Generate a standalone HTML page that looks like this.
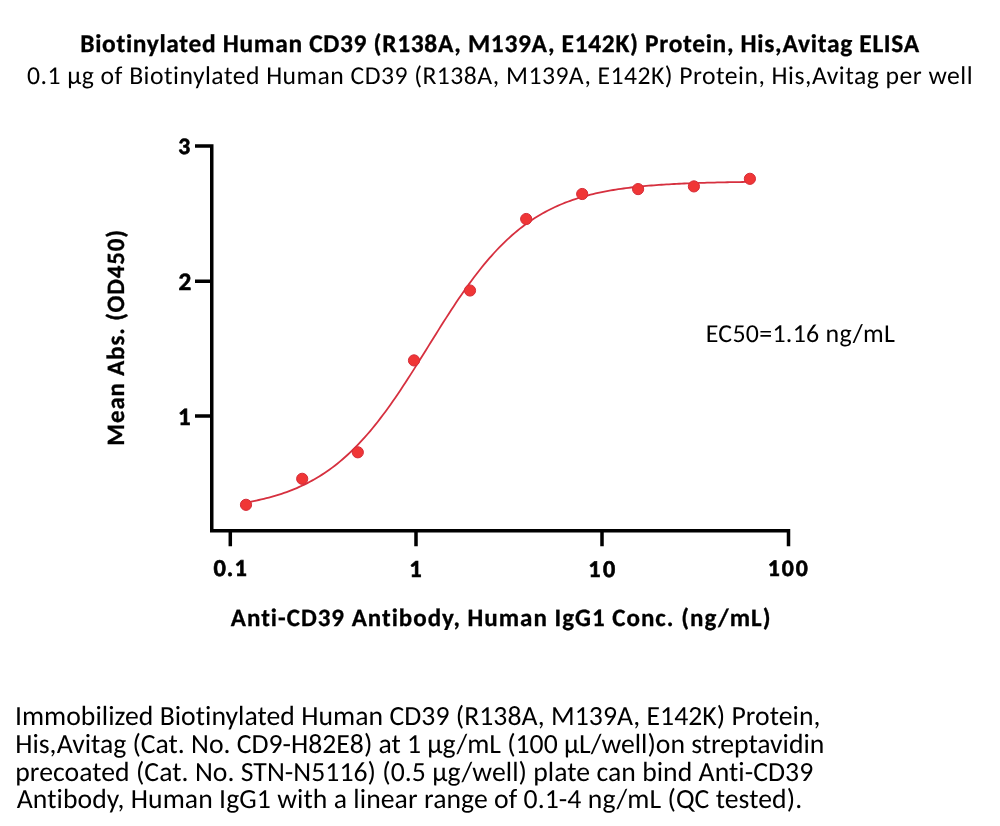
<!DOCTYPE html>
<html><head><meta charset="utf-8"><title>Biotinylated Human CD39 ELISA</title>
<style>
html,body{margin:0;padding:0;background:#fff;}
body{width:1000px;height:826px;overflow:hidden;position:relative;}
svg{position:absolute;left:0;top:0;will-change:transform;}
text{font-family:"Carlito","Liberation Sans",sans-serif;fill:#000;font-variant-ligatures:none;font-feature-settings:"liga" 0,"clig" 0,"dlig" 0;font-kerning:normal;text-rendering:geometricPrecision;font-size-adjust:cap-height 0.6416;}
.b{font-weight:bold;font-size-adjust:cap-height 0.6484;}
</style></head><body>
<svg width="1000" height="826" viewBox="0 0 1000 826">
<g fill="none" stroke="#000" stroke-width="3.5">
<path d="M195,146 H211.75 V530.75 H788.5 V546.3"/>
<path d="M195,281.2 H211.75 M195,416 H211.75"/>
<path d="M230.3,530.75 V546.3 M416,530.75 V546.3 M602,530.75 V546.3"/>
</g>
<text class="b" x="80.25" y="51.60" font-size="25.45" textLength="838.86" lengthAdjust="spacing" stroke="#000" stroke-width="0.3">Biotinylated Human CD39 (R138A, M139A, E142K) Protein, His,Avitag ELISA</text>
<text x="27.03" y="84.40" font-size="25.70" textLength="945.51" lengthAdjust="spacing">0.1 µg of Biotinylated Human CD39 (R138A, M139A, E142K) Protein, His,Avitag per well</text>
<text class="b" x="178.25" y="154.19" font-size="23.56" stroke="#000" stroke-width="0.6">3</text>
<text class="b" x="178.43" y="290.20" font-size="25.21" stroke="#000" stroke-width="0.6">2</text>
<text class="b" x="178.01" y="424.90" font-size="24.94" stroke="#000" stroke-width="0.6">1</text>
<text class="b" x="213.51" y="576.26" font-size="24.39" textLength="33.24" lengthAdjust="spacing" stroke="#000" stroke-width="0.6">0.1</text>
<text class="b" x="409.28" y="576.90" font-size="24.54" stroke="#000" stroke-width="0.6">1</text>
<text class="b" x="588.35" y="577.19" font-size="24.22" textLength="26.81" lengthAdjust="spacing" stroke="#000" stroke-width="0.6">10</text>
<text class="b" x="767.80" y="576.40" font-size="23.72" textLength="39.94" lengthAdjust="spacing" stroke="#000" stroke-width="0.6">100</text>
<text class="b" x="230.86" y="626.00" font-size="25.02" textLength="539.58" lengthAdjust="spacing" stroke="#000" stroke-width="0.3">Anti-CD39 Antibody, Human IgG1 Conc. (ng/mL)</text>
<text class="b" transform="translate(123.74,445.66) rotate(-90)" font-size="24.97" textLength="215.78" lengthAdjust="spacing" stroke="#000" stroke-width="0.3">Mean Abs. (OD450)</text>
<text x="705.74" y="341.70" font-size="25.92" textLength="189.23" lengthAdjust="spacing">EC50=1.16 ng/mL</text>
<path transform="translate(0,0.3)" d="M246.11,502.20 L248.64,501.74 L251.17,501.27 L253.71,500.77 L256.24,500.25 L258.77,499.70 L261.30,499.13 L263.84,498.53 L266.37,497.90 L268.90,497.25 L271.43,496.56 L273.96,495.84 L276.50,495.09 L279.03,494.31 L281.56,493.49 L284.09,492.63 L286.63,491.74 L289.16,490.80 L291.69,489.83 L294.22,488.81 L296.76,487.75 L299.29,486.64 L301.82,485.48 L304.35,484.28 L306.88,483.02 L309.42,481.71 L311.95,480.35 L314.48,478.93 L317.01,477.46 L319.55,475.92 L322.08,474.33 L324.61,472.67 L327.14,470.95 L329.67,469.17 L332.21,467.31 L334.74,465.39 L337.27,463.40 L339.80,461.34 L342.34,459.21 L344.87,457.00 L347.40,454.72 L349.93,452.36 L352.47,449.93 L355.00,447.42 L357.53,444.84 L360.06,442.17 L362.59,439.43 L365.13,436.62 L367.66,433.72 L370.19,430.75 L372.72,427.70 L375.26,424.58 L377.79,421.39 L380.32,418.12 L382.85,414.78 L385.39,411.37 L387.92,407.89 L390.45,404.35 L392.98,400.75 L395.51,397.09 L398.05,393.37 L400.58,389.60 L403.11,385.78 L405.64,381.92 L408.18,378.01 L410.71,374.07 L413.24,370.09 L415.77,366.09 L418.30,362.06 L420.84,358.01 L423.37,353.95 L425.90,349.88 L428.43,345.80 L430.97,341.73 L433.50,337.66 L436.03,333.60 L438.56,329.56 L441.10,325.53 L443.63,321.53 L446.16,317.56 L448.69,313.63 L451.22,309.73 L453.76,305.87 L456.29,302.06 L458.82,298.30 L461.35,294.60 L463.89,290.95 L466.42,287.36 L468.95,283.83 L471.48,280.37 L474.01,276.97 L476.55,273.65 L479.08,270.39 L481.61,267.21 L484.14,264.11 L486.68,261.07 L489.21,258.12 L491.74,255.24 L494.27,252.44 L496.81,249.71 L499.34,247.07 L501.87,244.50 L504.40,242.00 L506.93,239.59 L509.47,237.24 L512.00,234.98 L514.53,232.79 L517.06,230.67 L519.60,228.62 L522.13,226.64 L524.66,224.74 L527.19,222.90 L529.73,221.13 L532.26,219.42 L534.79,217.77 L537.32,216.19 L539.85,214.67 L542.39,213.20 L544.92,211.80 L547.45,210.45 L549.98,209.15 L552.52,207.90 L555.05,206.71 L557.58,205.56 L560.11,204.46 L562.64,203.41 L565.18,202.40 L567.71,201.43 L570.24,200.51 L572.77,199.62 L575.31,198.77 L577.84,197.96 L580.37,197.18 L582.90,196.44 L585.44,195.73 L587.97,195.05 L590.50,194.40 L593.03,193.78 L595.56,193.18 L598.10,192.62 L600.63,192.08 L603.16,191.56 L605.69,191.07 L608.23,190.59 L610.76,190.14 L613.29,189.71 L615.82,189.31 L618.35,188.91 L620.89,188.54 L623.42,188.19 L625.95,187.85 L628.48,187.52 L631.02,187.21 L633.55,186.92 L636.08,186.64 L638.61,186.37 L641.15,186.11 L643.68,185.87 L646.21,185.64 L648.74,185.42 L651.27,185.21 L653.81,185.01 L656.34,184.82 L658.87,184.63 L661.40,184.46 L663.94,184.29 L666.47,184.14 L669.00,183.99 L671.53,183.84 L674.07,183.71 L676.60,183.58 L679.13,183.45 L681.66,183.33 L684.19,183.22 L686.73,183.11 L689.26,183.01 L691.79,182.92 L694.32,182.82 L696.86,182.73 L699.39,182.65 L701.92,182.57 L704.45,182.49 L706.98,182.42 L709.52,182.35 L712.05,182.29 L714.58,182.23 L717.11,182.17 L719.65,182.11 L722.18,182.05 L724.71,182.00 L727.24,181.95 L729.78,181.91 L732.31,181.86 L734.84,181.82 L737.37,181.78 L739.90,181.74 L742.44,181.71 L744.97,181.67 L747.50,181.64 L750.03,181.61" fill="none" stroke="#D6303F" stroke-width="1.8"/>
<g fill="#F03636" stroke="#D42C38" stroke-width="1">
<circle cx="246" cy="504.8" r="5.6"/>
<circle cx="302.2" cy="478.8" r="5.6"/>
<circle cx="357.8" cy="452.3" r="5.6"/>
<circle cx="414" cy="360.4" r="5.6"/>
<circle cx="470" cy="290.5" r="5.6"/>
<circle cx="526.2" cy="219" r="5.6"/>
<circle cx="582.2" cy="194" r="5.6"/>
<circle cx="638.1" cy="189.1" r="5.6"/>
<circle cx="693.9" cy="186.4" r="5.6"/>
<circle cx="749.9" cy="178.8" r="5.6"/>
</g>
<text x="14.88" y="725.00" font-size="27.70" textLength="805.50" lengthAdjust="spacing">Immobilized Biotinylated Human CD39 (R138A, M139A, E142K) Protein,</text>
<text x="15.17" y="753.00" font-size="27.70" textLength="809.20" lengthAdjust="spacing">His,Avitag (Cat. No. CD9-H82E8) at 1 µg/mL (100 µL/well)on streptavidin</text>
<text x="15.26" y="780.50" font-size="27.70" textLength="797.97" lengthAdjust="spacing">precoated (Cat. No. STN-N5116) (0.5 µg/well) plate can bind Anti-CD39</text>
<text x="16.76" y="807.83" font-size="27.70" textLength="785.39" lengthAdjust="spacing">Antibody, Human IgG1 with a linear range of 0.1-4 ng/mL (QC tested).</text>
</svg>
</body></html>
